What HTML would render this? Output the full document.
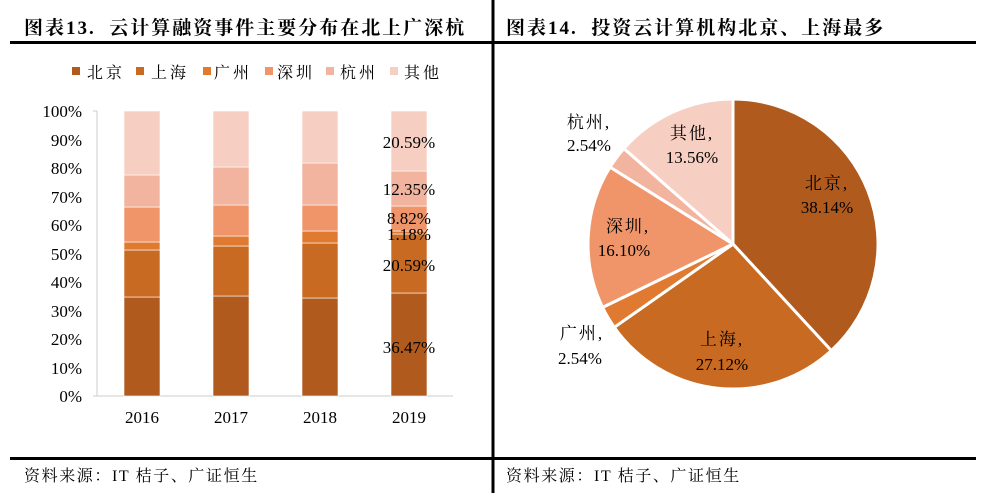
<!DOCTYPE html>
<html><head><meta charset="utf-8"><style>
body{margin:0;width:989px;height:493px;background:#fff;overflow:hidden}
svg text{font-family:"Liberation Serif","Noto Serif CJK SC",serif}
</style></head><body>
<svg width="989" height="493" viewBox="0 0 989 493" xmlns="http://www.w3.org/2000/svg">
<rect x="0" y="0" width="989" height="493" fill="#fff"/>
<rect x="10" y="41" width="966" height="3" fill="#000"/>
<rect x="10" y="457" width="966" height="3" fill="#000"/>
<rect x="491.5" y="0" width="3" height="493" fill="#000"/>
<text x="24" y="34" font-size="19" font-weight="bold" letter-spacing="2">图表13.&#160;&#160;云计算融资事件主要分布在北上广深杭</text>
<text x="506" y="34" font-size="19" font-weight="bold" letter-spacing="2">图表14.&#160;&#160;投资云计算机构北京、上海最多</text>
<text x="24" y="481" font-size="16" letter-spacing="1.6">资料来源：IT 桔子、广证恒生</text>
<text x="506" y="481" font-size="16" letter-spacing="1.6">资料来源：IT 桔子、广证恒生</text>
<g font-size="16" letter-spacing="3">
<rect x="72" y="67" width="8" height="8" fill="#B05A1E"/><text x="87" y="78">北京</text>
<rect x="136" y="67" width="8" height="8" fill="#C96A22"/><text x="151" y="78">上海</text>
<rect x="203" y="67" width="8" height="8" fill="#E07A30"/><text x="214" y="78">广州</text>
<rect x="265" y="67" width="8" height="8" fill="#F0956A"/><text x="277" y="78">深圳</text>
<rect x="326" y="67" width="8" height="8" fill="#F2B49E"/><text x="340" y="78">杭州</text>
<rect x="390" y="67" width="8" height="8" fill="#F7CFC2"/><text x="404" y="78">其他</text>
</g>
<line x1="97" y1="111" x2="97" y2="396" stroke="#ccc"/>
<line x1="93" y1="111" x2="97" y2="111" stroke="#ccc"/>
<line x1="93" y1="396" x2="453" y2="396" stroke="#ccc"/>
<g font-size="17" text-anchor="end">
<text x="82" y="117">100%</text><text x="82" y="146">90%</text><text x="82" y="174">80%</text>
<text x="82" y="203">70%</text><text x="82" y="231">60%</text><text x="82" y="260">50%</text>
<text x="82" y="288">40%</text><text x="82" y="317">30%</text><text x="82" y="345">20%</text>
<text x="82" y="374">10%</text><text x="82" y="402">0%</text>
</g>
<g font-size="17" text-anchor="middle">
<text x="142" y="423">2016</text><text x="231" y="423">2017</text><text x="320" y="423">2018</text><text x="409" y="423">2019</text>
</g>
<g stroke="#fff" stroke-width="0.6">
<rect x="124" y="297" width="36" height="99" fill="#B05A1E"/>
<rect x="124" y="250" width="36" height="47" fill="#C96A22"/>
<rect x="124" y="242" width="36" height="8" fill="#E07A30"/>
<rect x="124" y="207" width="36" height="35" fill="#F0956A"/>
<rect x="124" y="175" width="36" height="32" fill="#F2B49E"/>
<rect x="124" y="111" width="36" height="64" fill="#F7CFC2"/>
<rect x="213" y="296" width="36" height="100" fill="#B05A1E"/>
<rect x="213" y="246" width="36" height="50" fill="#C96A22"/>
<rect x="213" y="236" width="36" height="10" fill="#E07A30"/>
<rect x="213" y="205" width="36" height="31" fill="#F0956A"/>
<rect x="213" y="167" width="36" height="38" fill="#F2B49E"/>
<rect x="213" y="111" width="36" height="56" fill="#F7CFC2"/>
<rect x="302" y="298" width="36" height="98" fill="#B05A1E"/>
<rect x="302" y="243" width="36" height="55" fill="#C96A22"/>
<rect x="302" y="231" width="36" height="12" fill="#E07A30"/>
<rect x="302" y="205" width="36" height="26" fill="#F0956A"/>
<rect x="302" y="163" width="36" height="42" fill="#F2B49E"/>
<rect x="302" y="111" width="36" height="52" fill="#F7CFC2"/>
<rect x="391" y="293" width="36" height="103" fill="#B05A1E"/>
<rect x="391" y="234" width="36" height="59" fill="#C96A22"/>
<rect x="391" y="231" width="36" height="3" fill="#E07A30"/>
<rect x="391" y="206" width="36" height="25" fill="#F0956A"/>
<rect x="391" y="171" width="36" height="35" fill="#F2B49E"/>
<rect x="391" y="111" width="36" height="60" fill="#F7CFC2"/>
</g>
<g font-size="17" text-anchor="middle">
<text x="409" y="148">20.59%</text>
<text x="409" y="195">12.35%</text>
<text x="409" y="224">8.82%</text>
<text x="409" y="240">1.18%</text>
<text x="409" y="271">20.59%</text>
<text x="409" y="353">36.47%</text>
</g>
<g stroke="#fff" stroke-width="3" stroke-linejoin="round">
<path d="M733,244 L733,99 A145,145 0 0 1 831.3,350.6 Z" fill="#B05A1E"/>
<path d="M733,244 L831.3,350.6 A145,145 0 0 1 614.3,327.3 Z" fill="#C96A22"/>
<path d="M733,244 L614.3,327.3 A145,145 0 0 1 602.6,307.4 Z" fill="#E07A30"/>
<path d="M733,244 L602.6,307.4 A145,145 0 0 1 610.1,167.1 Z" fill="#F0956A"/>
<path d="M733,244 L610.1,167.1 A145,145 0 0 1 623.9,148.5 Z" fill="#F2B49E"/>
<path d="M733,244 L623.9,148.5 A145,145 0 0 1 733,99 Z" fill="#F7CFC2"/>
</g>
<g font-size="17" text-anchor="middle">
<text x="827" y="189" letter-spacing="2">北京,</text><text x="827" y="213">38.14%</text>
<text x="722" y="345" letter-spacing="2">上海,</text><text x="722" y="370">27.12%</text>
<text x="582" y="339" letter-spacing="2">广州,</text><text x="580" y="364">2.54%</text>
<text x="628" y="232" letter-spacing="2">深圳,</text><text x="624" y="256">16.10%</text>
<text x="589" y="128" letter-spacing="2">杭州,</text><text x="589" y="151">2.54%</text>
<text x="692" y="139" letter-spacing="2">其他,</text><text x="692" y="163">13.56%</text>
</g>
</svg>
</body></html>
